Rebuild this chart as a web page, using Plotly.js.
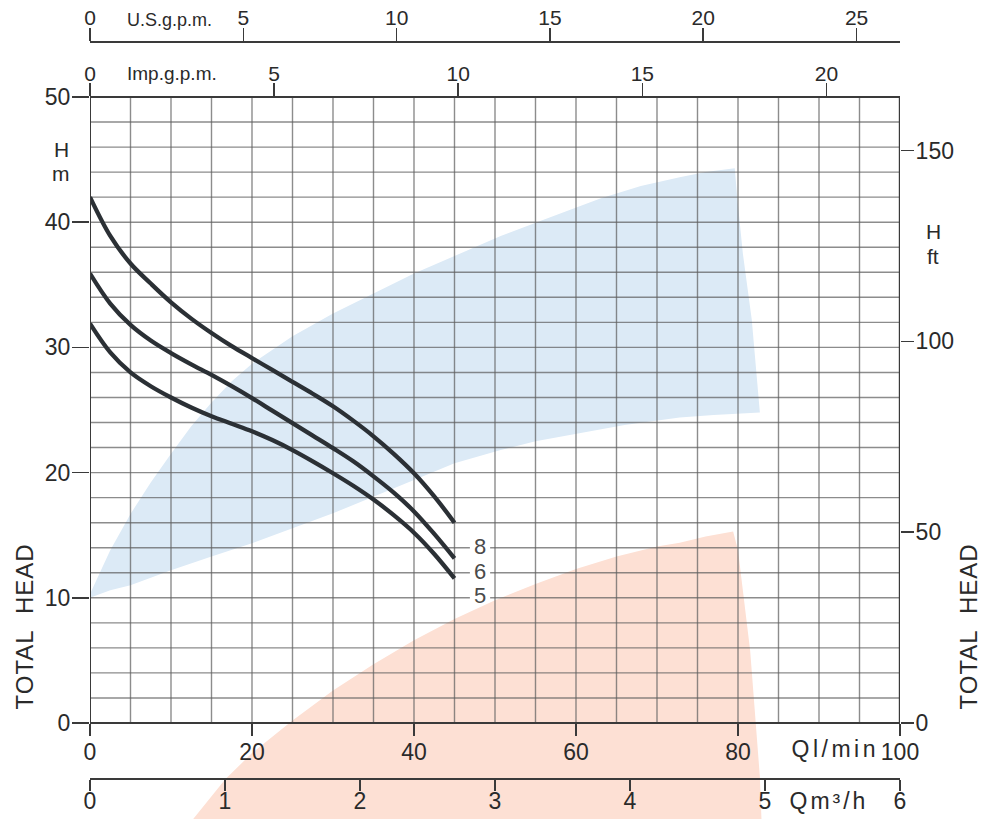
<!DOCTYPE html>
<html>
<head>
<meta charset="utf-8">
<script src="https://cdn.plot.ly/plotly-3.0.1.min.js"></script>
<style>html,body{margin:0;padding:0;background:#fff;}#chart{width:986px;height:819px;}</style>
</head>
<body>
<div id="chart"></div>
<script>
// ---- data (flow in l/min, head in m) ----
const curveLabels = ["8", "6", "5"];
const flowQ = [0, 2.5, 5, 7.5, 10, 12.5, 15, 17.5, 20, 22.5, 25, 27.5, 30, 32.5, 35, 37.5, 40, 42.5, 45];
const head8 = [42.0, 38.9, 36.7, 35.1, 33.6, 32.3, 31.15, 30.1, 29.15, 28.2, 27.25, 26.3, 25.3, 24.15, 22.9, 21.5, 19.95, 18.1, 16.0];
const head6 = [35.9, 33.5, 31.8, 30.55, 29.55, 28.65, 27.8, 26.9, 25.95, 24.95, 23.95, 22.95, 21.95, 20.9, 19.7, 18.4, 16.9, 15.1, 13.15];
const head5 = [31.9, 29.6, 28.0, 26.9, 26.0, 25.2, 24.5, 23.9, 23.3, 22.6, 21.8, 20.9, 19.95, 18.95, 17.85, 16.6, 15.2, 13.5, 11.55];
const labelQ = [48.1, 48.1, 48.1];
const labelH = [14.1, 12.1, 10.2];

// operating-range shaded areas
const blueQ = [0, 2.5, 5, 7.5, 10, 12.5, 15, 17.5, 20, 25, 30, 35, 40, 45, 50.7, 56, 63, 68, 72.8, 76, 79.6, 79.9, 80.6, 81.7, 82.7, 77, 72.8, 66, 60, 55, 50.7, 45, 40, 35, 30, 25, 20, 15, 10, 5, 2.5, 0];
const blueH = [10.3, 13.8, 16.7, 19.2, 21.5, 23.7, 25.6, 27.3, 28.7, 30.9, 32.7, 34.3, 35.9, 37.3, 38.9, 40.2, 41.9, 42.9, 43.6, 44.0, 44.3, 42.0, 37.5, 32.2, 24.8, 24.6, 24.4, 23.8, 23.1, 22.5, 21.8, 20.75, 19.4, 18.1, 16.75, 15.55, 14.35, 13.3, 12.2, 11.0, 10.6, 10.0];
const salmonQ = [12.7, 16.7, 20, 25, 30, 35, 40, 45, 50, 55, 60, 65, 70, 72.8, 76, 79.4, 80, 81.5, 82.7, 82.9, 12.7];
const salmonH = [-7.7, -4.5, -2.4, 0.2, 2.6, 4.7, 6.6, 8.3, 9.8, 11.1, 12.3, 13.3, 14.1, 14.4, 14.9, 15.3, 13.8, 5.8, -4.3, -7.7, -7.7];

// axes ticks
const lminTicks = [0, 20, 40, 60, 80, 100];
const m3hTicks = [0, 1, 2, 3, 4, 5, 6];
const impTicks = [0, 5, 10, 15, 20];
const usTicks = [0, 5, 10, 15, 20, 25];
const headTicks = [0, 10, 20, 30, 40, 50];
const ftTicks = [0, 50, 100, 150];
const gridQ = [0,5,10,15,20,25,30,35,40,45,50,55,60,65,70,75,80,85,90,95,100];
const gridH = [0,2,4,6,8,10,12,14,16,18,20,22,24,26,28,30,32,34,36,38,40,42,44,46,48,50];

// ---- geometry ----
const W = 986, H = 819;
const xL = 90, xR = 900;          // pixel x of Q=0 and Q=100
const yZero = 723, yFifty = 97;   // pixel y of H=0 and H=50
const pxPerM = (yZero - yFifty) / 50;
const yMin = -(H - yZero) / pxPerM;
const yMax = yZero / pxPerM;
const M2FT = 3.28084;
const FONT = "Liberation Sans, Arial, sans-serif";
const txt = "#2a2a2a";
const axCol = "#3a3a3a";

// grid built from the grid arrays
const gx = [], gy = [];
gridQ.forEach(q => { gx.push(q, q, null); gy.push(0, 50, null); });
gridH.forEach(h => { gx.push(0, 100, null); gy.push(h, h, null); });

const curveStyle = {color: "#2b3035", width: 4.3, shape: "spline", smoothing: 1};
const traces = [
  {x: blueQ, y: blueH, mode: "lines", fill: "toself", fillcolor: "#dceaf6", line: {width: 0}, hoverinfo: "skip", xaxis: "x", yaxis: "y"},
  {x: salmonQ, y: salmonH, mode: "lines", fill: "toself", fillcolor: "#fde0d4", line: {width: 0}, hoverinfo: "skip", xaxis: "x", yaxis: "y"},
  {x: gx, y: gy, mode: "lines", line: {color: "rgba(95,95,95,0.72)", width: 1.4}, hoverinfo: "skip", xaxis: "x", yaxis: "y"},
  {x: flowQ, y: head8, mode: "lines", line: curveStyle, xaxis: "x", yaxis: "y"},
  {x: flowQ, y: head6, mode: "lines", line: curveStyle, xaxis: "x", yaxis: "y"},
  {x: flowQ, y: head5, mode: "lines", line: curveStyle, xaxis: "x", yaxis: "y"},
  {x: [], y: [], xaxis: "x2", yaxis: "y"},
  {x: [], y: [], xaxis: "x3", yaxis: "y"},
  {x: [], y: [], xaxis: "x4", yaxis: "y"},
  {x: [], y: [], xaxis: "x", yaxis: "y2"}
];

const dom = [xL / W, xR / W];
const tickFont = {family: FONT, size: 23, color: txt};
const topFont = {family: FONT, size: 21, color: txt};
const common = {showgrid: false, zeroline: false, fixedrange: true, ticks: "outside", tickcolor: axCol, tickwidth: 1.6, showline: true, linecolor: axCol, linewidth: 2};

// small white masks behind the curve numbers (interrupting the grid like the original)
const labelMasks = labelQ.map((q, i) => ({type: "rect", xref: "x", yref: "y", x0: q - 1.2, x1: q + 1.3,
  y0: labelH[i] - 0.55, y1: labelH[i] + 0.55, fillcolor: "#ffffff", line: {width: 0}, layer: "above"}));

const layout = {
  width: W, height: H,
  margin: {l: 0, r: 0, t: 0, b: 0, pad: 0},
  paper_bgcolor: "#fff", plot_bgcolor: "rgba(0,0,0,0)",
  showlegend: false,
  xaxis: Object.assign({}, common, {domain: dom, range: [0, 100], anchor: "free", position: (H - yZero) / H, side: "bottom",
    tickvals: lminTicks, ticktext: lminTicks.map(String), ticklen: 12, ticklabelstandoff: -4, tickfont: tickFont}),
  xaxis2: Object.assign({}, common, {domain: dom, overlaying: "x", range: [0, 6], anchor: "free", position: (H - 779) / H, side: "bottom",
    tickvals: m3hTicks, ticktext: m3hTicks.map(String), ticklen: 11, ticklabelstandoff: -10, tickfont: tickFont}),
  xaxis3: Object.assign({}, common, {domain: dom, overlaying: "x", range: [0, 100 / 4.54609], anchor: "free", position: (H - yFifty) / H, side: "top",
    tickvals: impTicks, ticktext: impTicks.map(String), ticklen: 13, ticklabelstandoff: -6, tickfont: topFont}),
  xaxis4: Object.assign({}, common, {domain: dom, overlaying: "x", range: [0, 100 / 3.78541], anchor: "free", position: (H - 42) / H, side: "top",
    tickvals: usTicks, ticktext: usTicks.map(String), ticklen: 13, ticklabelstandoff: -5, tickfont: topFont}),
  yaxis: Object.assign({}, common, {domain: [0, 1], range: [yMin, yMax], anchor: "x", side: "left", showline: false,
    tickvals: headTicks, ticktext: headTicks.map(String), ticklen: 17, ticklabelstandoff: -3, tickfont: tickFont}),
  yaxis2: Object.assign({}, common, {overlaying: "y", range: [yMin * M2FT, yMax * M2FT], anchor: "x", side: "right", showline: false,
    tickvals: ftTicks, ticktext: ftTicks.map(String), ticklen: 13, ticklabelstandoff: -3, tickfont: tickFont}),
  shapes: [
    {type: "line", xref: "x", yref: "y", x0: 0, x1: 0, y0: 0, y1: 50, line: {color: axCol, width: 2}, layer: "above"},
    {type: "line", xref: "x", yref: "y", x0: 100, x1: 100, y0: 0, y1: 50, line: {color: axCol, width: 2.4}, layer: "above"}
  ].concat(labelMasks),
  annotations: [
    {xref: "paper", yref: "paper", x: 24 / W, y: 1 - 627 / H, text: "TOTAL\u00a0\u00a0HEAD", textangle: -90, font: {family: FONT, size: 24, color: txt}},
    {xref: "paper", yref: "paper", x: 968 / W, y: 1 - 627 / H, text: "TOTAL\u00a0\u00a0HEAD", textangle: -90, font: {family: FONT, size: 24, color: txt}},
    {xref: "paper", yref: "paper", x: 61 / W, y: 1 - 149 / H, text: "H", font: {family: FONT, size: 21, color: txt}},
    {xref: "paper", yref: "paper", x: 61 / W, y: 1 - 173 / H, text: "m", font: {family: FONT, size: 21, color: txt}},
    {xref: "paper", yref: "paper", x: 933 / W, y: 1 - 231 / H, text: "H", font: {family: FONT, size: 21, color: txt}},
    {xref: "paper", yref: "paper", x: 933 / W, y: 1 - 256 / H, text: "ft", font: {family: FONT, size: 21, color: txt}},
    {xref: "paper", yref: "paper", x: 835 / W, y: 1 - 749 / H, text: "Ql/min", font: {family: FONT, size: 23, color: txt}},
    {xref: "paper", yref: "paper", x: 829 / W, y: 1 - 801 / H, text: "Qm\u00b3/h", font: {family: FONT, size: 23, color: txt}},
    {xref: "paper", yref: "paper", x: 125 / W, y: 1 - 20 / H, xanchor: "left", text: "U.S.g.p.m.", font: {family: FONT, size: 18, color: txt}},
    {xref: "paper", yref: "paper", x: 125 / W, y: 1 - 73 / H, xanchor: "left", text: "Imp.g.p.m.", font: {family: FONT, size: 19, color: txt}}
  ].concat(curveLabels.map((t, i) => ({xref: "x", yref: "y", x: labelQ[i], y: labelH[i], text: t,
      font: {family: FONT, size: 22, color: "#4a4a4a"}})))
   .map(a => Object.assign({showarrow: false, xanchor: "center", yanchor: "middle"}, a))
};

const spacing = {0: "1px", 1: "1px", 6: "3.5px", 7: "3px"};
Plotly.newPlot("chart", traces, layout, {staticPlot: true, displayModeBar: false}).then(gd => {
  Object.keys(spacing).forEach(i => {
    const t = gd.querySelector('.annotation[data-index="' + i + '"] text');
    if (t) t.style.letterSpacing = spacing[i];
  });
});
</script>
</body>
</html>
